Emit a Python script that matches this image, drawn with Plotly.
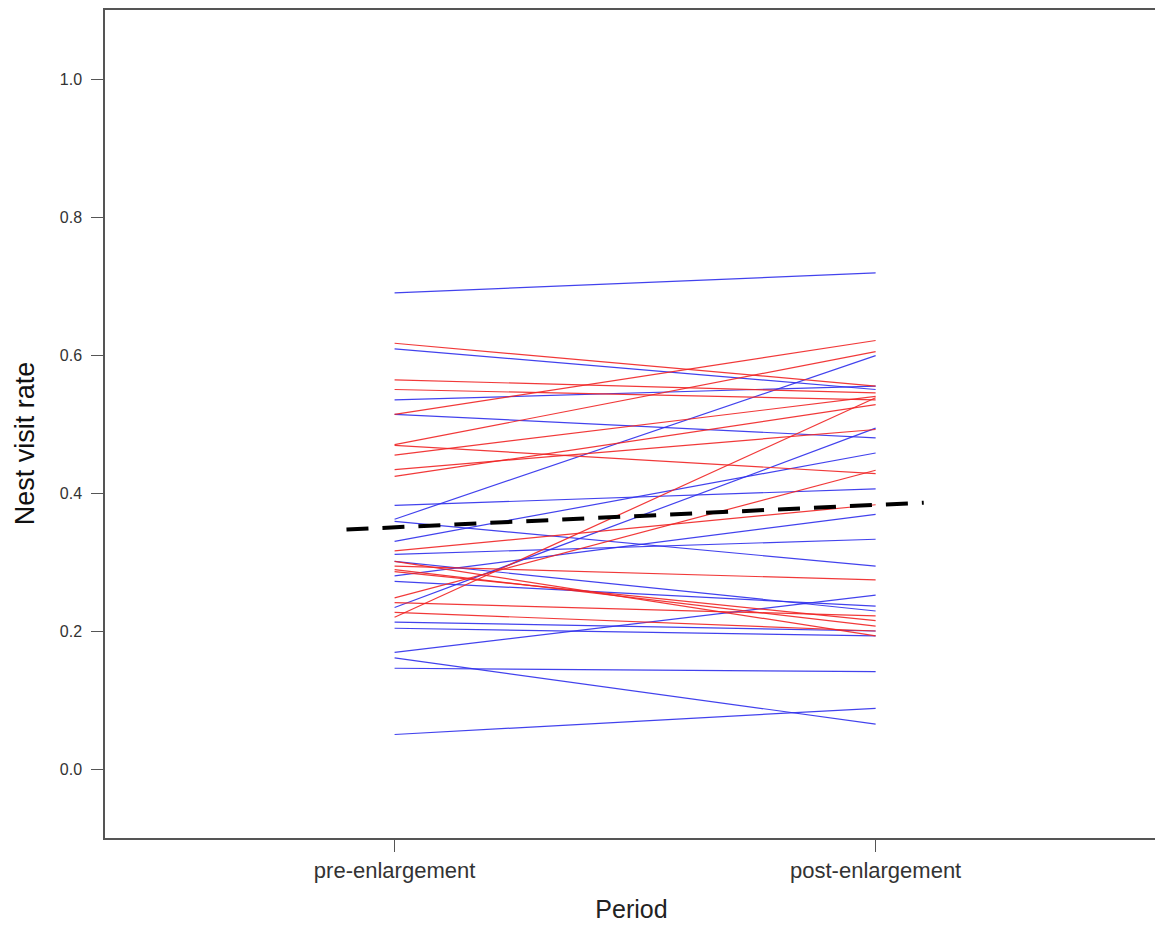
import plotly.graph_objects as go

# Data: individual pre/post nest visit rates
periods = ["pre-enlargement", "post-enlargement"]
blue_pre = [0.690, 0.609, 0.535, 0.514, 0.382, 0.362, 0.359, 0.330, 0.311, 0.301,
            0.280, 0.272, 0.234, 0.213, 0.204, 0.169, 0.161, 0.146, 0.050]
blue_post = [0.719, 0.550, 0.555, 0.480, 0.406, 0.599, 0.294, 0.458, 0.333, 0.229,
             0.369, 0.236, 0.494, 0.200, 0.193, 0.252, 0.065, 0.141, 0.088]
red_pre = [0.617, 0.564, 0.550, 0.514, 0.470, 0.469, 0.455, 0.434, 0.424, 0.316,
           0.294, 0.289, 0.286, 0.248, 0.241, 0.227, 0.220, 0.301]
red_post = [0.555, 0.545, 0.535, 0.621, 0.605, 0.428, 0.540, 0.492, 0.528, 0.383,
            0.274, 0.207, 0.215, 0.433, 0.222, 0.200, 0.538, 0.193]
trend_x = [0.9, 2.1]
trend_y = [0.347, 0.386]
y_ticks = [0.0, 0.2, 0.4, 0.6, 0.8, 1.0]

FONT = "Liberation Sans, Arial, Helvetica, sans-serif"

fig = go.Figure()
xpos = [1, 2]
for a, b in zip(blue_pre, blue_post):
    fig.add_trace(go.Scatter(x=xpos, y=[a, b], mode="lines",
                             line=dict(color="rgba(45,45,235,0.9)", width=1.2),
                             showlegend=False, hoverinfo="skip"))
for a, b in zip(red_pre, red_post):
    fig.add_trace(go.Scatter(x=xpos, y=[a, b], mode="lines",
                             line=dict(color="rgba(240,35,35,0.9)", width=1.2),
                             showlegend=False, hoverinfo="skip"))
fig.add_trace(go.Scatter(x=trend_x, y=trend_y, mode="lines",
                         line=dict(color="black", width=4, dash="22px,14px"),
                         showlegend=False, hoverinfo="skip"))

fig.update_layout(
    width=1152, height=917,
    margin=dict(l=97, r=0, t=2, b=87),
    plot_bgcolor="white", paper_bgcolor="white",
    xaxis=dict(range=[0.398, 2.587], tickvals=xpos, ticktext=periods,
               showline=True, linecolor="#555", linewidth=1.5, mirror=True,
               ticks="outside", ticklen=12, tickcolor="#555", showgrid=False,
               zeroline=False, tickfont=dict(family=FONT, size=22, color="#333"),
               title=dict(text="Period", font=dict(family=FONT, size=25, color="#222"), standoff=18)),
    yaxis=dict(range=[-0.1, 1.1], tickvals=y_ticks, tickformat=".1f",
               showline=True, linecolor="#555", linewidth=1.5, mirror=True,
               ticks="outside", ticklen=12, tickcolor="#555", showgrid=False,
               zeroline=False, ticklabelstandoff=6,
               tickfont=dict(family=FONT, size=16, color="#333")),
    annotations=[dict(text="Nest visit rate", xref="paper", yref="paper",
                      x=-0.0758, y=0.477, xanchor="center", yanchor="middle",
                      textangle=-90, showarrow=False,
                      font=dict(family=FONT, size=27, color="#111"))],
)
fig.write_html("out.html")
